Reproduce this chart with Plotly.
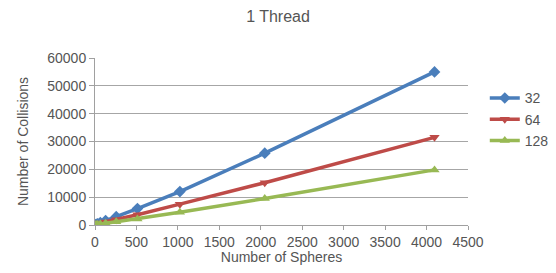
import plotly.graph_objects as go

spheres = [8, 16, 32, 64, 128, 256, 512, 1024, 2048, 4096]
col_32 = [100, 230, 450, 900, 1600, 3000, 5900, 12000, 25800, 55000]
col_64 = [600, 500, 550, 700, 1100, 1900, 3700, 7500, 15200, 31500]
col_128 = [50, 100, 200, 350, 650, 1150, 2200, 4600, 9500, 19800]
series_names = ["32", "64", "128"]
x_ticks = [0, 500, 1000, 1500, 2000, 2500, 3000, 3500, 4000, 4500]
y_ticks = [0, 10000, 20000, 30000, 40000, 50000, 60000]

colors = ["#4A7EBB", "#BE4B48", "#98B954"]
symbols = ["diamond", "triangle-down", "triangle-up"]

fig = go.Figure()
for name, vals, c, s in zip(series_names, [col_32, col_64, col_128], colors, symbols):
    fig.add_trace(go.Scatter(
        x=spheres, y=vals, name=name, mode="lines+markers",
        line=dict(color=c, width=3.5),
        marker=dict(symbol=s, size=9, color=c),
    ))

fig.update_layout(
    width=540, height=257,
    margin=dict(l=87, r=80, t=50, b=40, autoexpand=False),
    paper_bgcolor="white", plot_bgcolor="white",
    font=dict(family="Liberation Sans, Arial, sans-serif", color="#555555", size=14),
    title=dict(text="1 Thread", x=0.5, xanchor="center", y=0.969, yanchor="middle",
               font=dict(size=16, color="#555555")),
    xaxis=dict(range=[0, 4500], tickvals=x_ticks, tickformat="d", showgrid=False, zeroline=False,
               showline=True, linecolor="#A0A0A0", linewidth=1, automargin=False,
               ticks="outside", ticklen=4, tickcolor="#A0A0A0",
               tickfont=dict(size=14),
               title=dict(text="Number of Spheres", font=dict(size=14), standoff=5)),
    yaxis=dict(range=[0, 60000], tickvals=y_ticks, tickformat="d", showgrid=True, gridcolor="#A6A6A6",
               zeroline=False, showline=True, linecolor="#A0A0A0", linewidth=1, automargin=False,
               ticks="outside", ticklen=5, tickcolor="#A0A0A0",
               title=dict(text="Number of Collisions", font=dict(size=14), standoff=15)),
    legend=dict(x=1.045, y=0.854, xanchor="left", yanchor="top",
                font=dict(size=14), itemwidth=30, tracegroupgap=0,
                bgcolor="rgba(0,0,0,0)"),
)

fig.write_html("out.html")
